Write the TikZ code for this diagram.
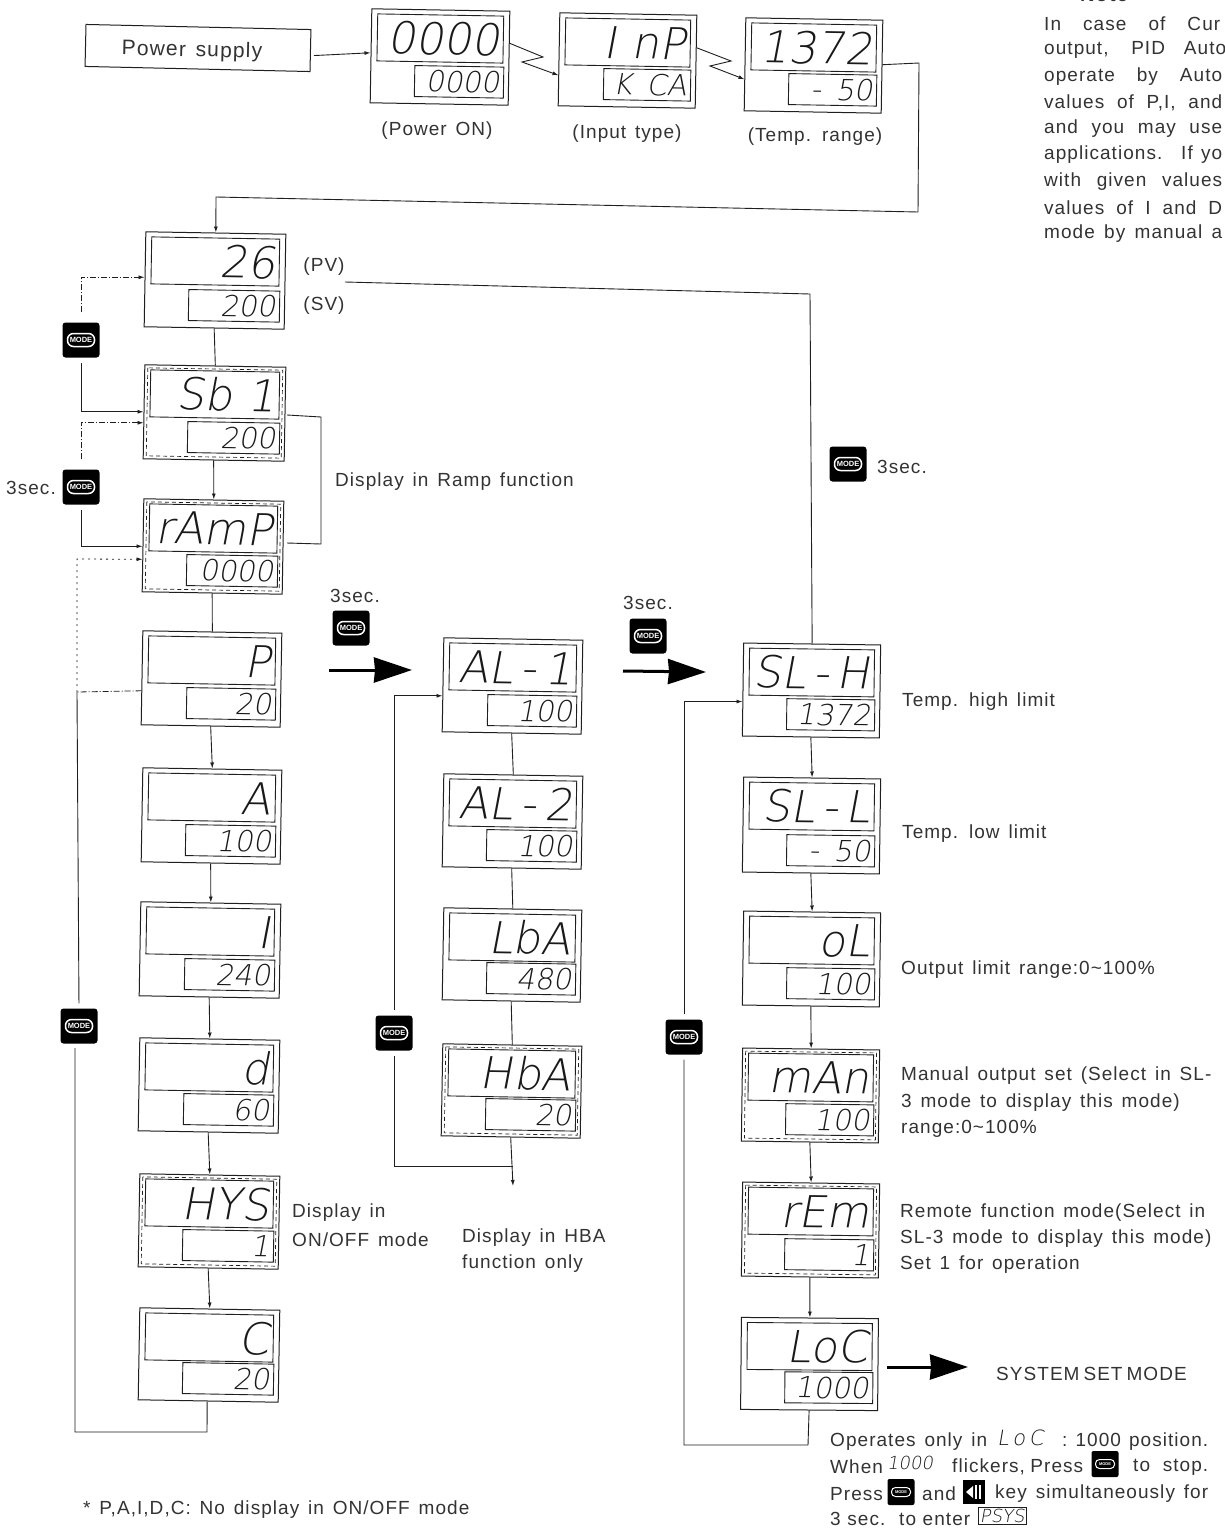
\documentclass[tikz,border=0pt]{standalone}
\usepackage{fontspec}
\usetikzlibrary{arrows.meta,calc}
\setmainfont{Liberation Sans}
\newfontfamily\ann[LetterSpace=5.5,WordSpace=1.4]{Liberation Sans}
\newfontfamily\segf[FakeSlant=0.17]{DejaVu Sans ExtraLight}
\newcommand{\segU}{\segf\fontsize{44}{44}\selectfont}
\newcommand{\segL}{\segf\fontsize{29}{29}\selectfont}
\newcommand{\segS}{\segf\fontsize{21}{21}\selectfont}
\newcommand{\segT}{\segf\fontsize{18}{18}\selectfont}
\newcommand{\annf}{\ann\fontsize{19}{22}\selectfont}
% a line of text set to a given width, the word spaces taking up the slack
\newcommand{\jl}[2]{\hbox to #1pt{\spaceskip=4pt plus 1fil\relax #2}}
\definecolor{ink}{gray}{0.12}
\definecolor{seg}{gray}{0.1}
\definecolor{txt}{gray}{0.2}
\tikzset{
  dbox/.style={draw=ink,line width=1pt,rectangle,inner sep=0pt},
  upd/.style={draw=ink,line width=0.9pt,rectangle,inner sep=0pt,text=seg,font=\segU,align=right,text height=32pt,text depth=0pt},
  lod/.style={draw=ink,line width=0.9pt,rectangle,inner sep=0pt,text=seg,font=\segL,align=right,text height=21pt,text depth=0pt},
  dashin/.style={draw=ink,line width=0.7pt,dash pattern=on 4pt off 3pt},
  conn/.style={draw=ink,line width=0.9pt},
  tip/.style={-{Latex[length=6pt,width=4pt]}},
  dconn/.style={draw=ink,line width=0.8pt,dash pattern=on 6pt off 2pt on 1pt off 2pt},
  dotconn/.style={draw=ink,line width=0.8pt,dash pattern=on 2pt off 4pt},
  bold/.style={draw=black,line width=3pt,-{Stealth[length=38pt,width=25pt,inset=1pt]}},
  lab/.style={font=\annf,text=txt,anchor=west,inner sep=0pt,yshift=-2pt},
  labc/.style={font=\annf,text=txt,anchor=center,inner sep=0pt,yshift=-2pt},
  btn/.style={fill=black,rectangle,rounded corners=3pt,minimum width=37pt,minimum height=35pt,inner sep=0pt},
  pill/.style={fill=black,draw=white,line width=1.5pt,rounded corners=6pt,minimum width=27pt,minimum height=13pt,inner sep=0pt,text=white,font=\bfseries\fontsize{7.5}{8}\selectfont},
  sbtn/.style={fill=black,rectangle,rounded corners=2pt,minimum width=27pt,minimum height=26pt,inner sep=0pt},
  spill/.style={fill=black,draw=white,line width=1pt,rounded corners=4pt,minimum width=19pt,minimum height=9pt,inner sep=0pt,text=white,font=\bfseries\fontsize{4}{4}\selectfont},
}
% name x1 y1 x2 y2 lowerleft upper lower rot
\newcommand{\disp}[9]{%
  \pgfmathsetmacro\dw{#4-#2}\pgfmathsetmacro\dh{#5-#3}%
  \pgfmathsetmacro\cxx{(#2+#4)/2}\pgfmathsetmacro\cyy{(#3+#5)/2}%
  \pgfmathsetmacro\uw{\dw-12}\pgfmathsetmacro\lw{#4-5-#6}%
  \pgfmathsetmacro\uy{-\dh/2+5+23.5}\pgfmathsetmacro\ly{\dh/2-7-15.5}%
  \pgfmathsetmacro\lx{\dw/2-5-\lw/2}\pgfmathsetmacro\utw{\uw-8}\pgfmathsetmacro\ltw{\lw-8}%
  \begin{scope}[shift={(\cxx,\cyy)},rotate=#9,transform shape]
    \node[dbox,minimum width=\dw pt,minimum height=\dh pt] (#1) at (0,0) {};
    \node[upd,minimum width=\uw pt,minimum height=47pt,text width=\utw pt] (#1u) at (0,\uy) {#7};
    \node[lod,minimum width=\lw pt,minimum height=31pt,text width=\ltw pt] (#1l) at (\lx,\ly) {#8};
  \end{scope}%
}
% same, with the dashed inner frame
\newcommand{\dispd}[9]{%
  \disp{#1}{#2}{#3}{#4}{#5}{#6}{#7}{#8}{#9}%
  \begin{scope}[shift={(\cxx,\cyy)},rotate=#9]
    \pgfmathsetmacro\ax{\dw/2-3}\pgfmathsetmacro\ay{\dh/2-3}%
    \draw[dashin] (-\ax,-\ay) rectangle (\ax,\ay);
  \end{scope}%
}
\newcommand{\modebtn}[3]{%
  \node[btn] (#1) at (#2,#3) {};
  \node[pill] (#1p) at (#2,#3) {MODE};
}
\newcommand{\smallbtn}[3]{%
  \node[sbtn] (#1) at (#2,#3) {};
  \node[spill] (#1p) at (#2,#3) {MODE};
}
\begin{document}
\begin{tikzpicture}[x=1pt,y=-1pt]
\useasboundingbox (0,0) rectangle (1225,1528);
\fill[white] (0,0) rectangle (1225,1528);

% ---------- top row
\node[dbox,rotate=-1.3,minimum width=225pt,minimum height=42pt] (ps) at (198,48) {};
\node[rotate=-1.3,font=\ann\fontsize{21}{24}\selectfont,text=txt,inner sep=0pt] (pst) at (192,51) {Power supply};
\disp{on}{371}{10}{509}{104}{415}{0000}{0000}{-1}
\disp{inp}{559}{14}{696}{107}{604}{I nP}{K\enspace CA}{-1}
\disp{tmp}{745}{19}{882}{112}{789}{1372}{-\enspace50}{-1}
\node[labc] (lon) at (437,129) {(Power ON)};
\node[labc] (lin) at (627,132) {(Input type)};
\node[labc] (ltm) at (815,135) {(Temp. range)};

\draw[conn,tip] ($(ps.east)+(3,5)$) -- ($(on.west)+(0,-3)$);
\coordinate (z1) at (543,57); \coordinate (z2) at (522,62);
\draw[conn,tip] ($(on.east)+(0,-15)$) -- (z1) -- (z2) -- ($(inp.west)+(0,16)$);
\coordinate (z3) at (731,61); \coordinate (z4) at (710,66);
\draw[conn,tip] ($(inp.east)+(0,-14)$) -- (z3) -- (z4) -- ($(tmp.west)+(0,15)$);

% ---------- left column
\disp{pv}{145}{233}{285}{328}{189}{26}{200}{-1}
\dispd{sv}{144}{366}{285}{460}{188}{Sb 1}{200}{-1}
\dispd{ramp}{143}{500}{283}{593}{187}{rAmP}{0000}{-1}
\disp{p}{142}{632}{281}{726}{187}{P}{20}{-1}
\disp{a}{142}{769}{281}{863}{186}{A}{100}{-1}
\disp{i}{140}{903}{280}{997}{185}{I}{240}{-1}
\disp{d}{139}{1039}{279}{1132}{184}{d}{60}{-1}
\dispd{hys}{139}{1175}{279}{1268}{183}{HYS}{1}{-1}
\disp{c}{139}{1309}{279}{1401}{183}{C}{20}{-1}

\coordinate (r1) at (919,63); \coordinate (r2) at (918,212); \coordinate (r3) at (216,197);
\draw[conn,tip] ($(tmp.east)+(0,-2)$) -- (r1) -- (r2) -- (r3) -- (pv.north);

\draw[conn] (pv.south) -- (sv.north);
\draw[conn,tip] (sv.south) -- (ramp.north);
\draw[conn] (ramp.south) -- (p.north);
\draw[conn,tip] (p.south) -- (a.north);
\draw[conn,tip] (a.south) -- (i.north);
\draw[conn,tip] (i.south) -- (d.north);
\draw[conn,tip] (d.south) -- (hys.north);
\draw[conn,tip] (hys.south) -- (c.north);

\modebtn{m1}{81}{340}
\modebtn{m2}{81}{487}
\modebtn{m6}{79}{1026}
\draw[dconn,tip,shorten <=10pt] (m1.north) |- ($(pv.west)+(0,-2)$);
\draw[conn,tip,shorten <=5pt] (m1.south) |- ($(sv.west)+(0,0)$);
\draw[dconn,tip,shorten <=10pt] (m2.north) |- ($(sv.west)+(0,11)$);
\draw[conn,tip,shorten <=5pt] (m2.south) |- ($(ramp.west)+(0,1)$);
\coordinate (lp) at (77,692);
\draw[dotconn,tip] (lp) -- (77,559) -- ($(ramp.west)+(0,14)$);
\draw[dconn] ($(p.west)+(0,13)$) -- (lp);
\draw[conn,shorten >=5pt] (lp) -- (m6.north);
\coordinate (cl) at (207,1432); \coordinate (cb) at (75,1432);
\draw[conn] (c.south) ++(-1,0) -- (cl) -- (cb) -- (75,1048);

\draw[conn] (287,415) -- (321,417) -- (321,544) -- (287,543);
\node[lab] (ldr) at (335,480) {Display in Ramp function};
\node[labc] (lpv) at (324,265) {(PV)};
\node[labc] (lsv) at (324,304) {(SV)};
\node[labc] (l3a) at (31,486) {3sec.};
\node[lab] (lh1) at (292,1211) {Display in};
\node[lab] (lh2) at (292,1238) {ON/OFF mode};

% ---------- middle column
\disp{al}{443}{639}{582}{733}{488}{AL\,-\,1}{100}{-1}
\disp{alb}{443}{775}{582}{868}{487}{AL\,-\,2}{100}{-1}
\disp{lba}{443}{909}{581}{1001}{487}{LbA}{480}{-1}
\dispd{hba}{442}{1045}{581}{1137}{486}{HbA}{20}{-1}
\draw[conn] (al.south) -- (alb.north);
\draw[conn] (alb.south) -- (lba.north);
\draw[conn] (lba.south) -- (hba.north);
\coordinate (hbe) at (513,1186);
\draw[conn,tip] (hba.south) -- (hbe);
\modebtn{m7}{394}{1033}
\coordinate (hbj) at (513,1166);
\draw[conn,tip,shorten <=5pt] (m7.north) |- ($(al.west)+(0,11)$);
\draw[conn,shorten <=5pt] (m7.south) |- (hbj);
\node[lab] (lb1) at (462,1236) {Display in HBA};
\node[lab] (lb2) at (462,1262) {function only};

% ---------- right column
\disp{slh}{743}{644}{880}{737}{787}{SL\,-\,H}{1372}{-0.8}
\disp{sll}{743}{778}{880}{873}{787}{SL\,-\,L}{-\enspace50}{-0.8}
\disp{ol}{743}{912}{880}{1006}{787}{oL}{100}{-0.8}
\dispd{man}{742}{1049}{879}{1142}{786}{mAn}{100}{-0.8}
\dispd{rem}{742}{1183}{879}{1277}{785}{rEm}{1}{-0.8}
\disp{loc}{741}{1318}{878}{1410}{785}{LoC}{1000}{-0.5}
\draw[conn,tip] (slh.south) -- (sll.north);
\draw[conn,tip] (sll.south) -- (ol.north);
\draw[conn,tip] (ol.south) -- (man.north);
\draw[conn,tip] (man.south) -- (rem.north);
\draw[conn,tip] (rem.south) -- (loc.north);

\coordinate (pv1) at (345,282); \coordinate (pv2) at (810,294);
\draw[conn] (pv1) -- (pv2) -- (slh.north);
\modebtn{m5}{848}{464}
\node[lab] (l3e) at (877,465) {3sec.};
\modebtn{m8}{684}{1037}
\draw[conn,tip,shorten <=5pt] (m8.north) |- ($(slh.west)+(0,12)$);
\coordinate (lb) at (684,1445); \coordinate (lc) at (808,1445);
\draw[conn,shorten <=5pt] (m8.south) -- (lb) -- (lc) -- (loc.south);

\node[lab] (t1) at (902,700) {Temp. high limit};
\node[lab] (t2) at (902,832) {Temp. low limit};
\node[lab] (t3) at (901,968) {Output limit range:0\textasciitilde100\%};
\node[lab] (t4) at (901,1074) {Manual output set (Select in SL-};
\node[lab] (t5) at (901,1101) {3 mode to display this mode)};
\node[lab] (t6) at (901,1127) {range:0\textasciitilde100\%};
\node[lab] (t7) at (900,1211) {Remote function mode(Select in};
\node[lab] (t8) at (900,1237) {SL-3 mode to display this mode)};
\node[lab] (t9) at (900,1263) {Set 1 for operation};

% ---------- mode change arrows
\modebtn{m3}{351}{628}
\node[labc] (l3b) at (355,594) {3sec.};
\coordinate (a1s) at (329,670); \coordinate (a1e) at (412,670);
\draw[bold] (a1s) -- (a1e);
\modebtn{m4}{648}{636}
\node[labc] (l3c) at (648,601) {3sec.};
\coordinate (a2s) at (623,671); \coordinate (a2e) at (706,672);
\draw[bold] (a2s) -- (a2e);
\coordinate (a3s) at (887,1367); \coordinate (a3e) at (968,1367);
\draw[bold] (a3s) -- (a3e);
\node[lab] (sys) at (996,1372) {\hbox to 189pt{\spaceskip=4pt plus 1fil\relax SYSTEM SET MODE}};

% ---------- notes under the LoC box
\node[lab] (n1) at (830,1440) {Operates only in};
\node[anchor=west,inner sep=0pt,font=\segS,text=seg] (n1b) at (997,1438) {L\thinspace o\thinspace C};
\node[lab] (n1c) at (1062,1440) {\jl{146}{:\ 1000 position.}};
\node[lab] (n2) at (830,1465) {When};
\node[anchor=west,inner sep=0pt,font=\segT,text=seg] (n2b) at (887,1463) {1000};
\node[lab] (n2c) at (952,1465) {\jl{131}{flickers, Press}};
\smallbtn{s1}{1105}{1464}
\node[lab] (n2d) at (1133,1465) {\jl{75}{to stop.}};
\node[lab] (n3) at (830,1492) {Press};
\smallbtn{s2}{901}{1492}
\node[lab] (n3b) at (922,1492) {and};
\node[fill=black,rectangle,minimum width=22pt,minimum height=24pt,inner sep=0pt] (s3) at (974,1492) {};
\fill[white] (966,1492) -- (973,1486) -- (973,1498) -- cycle;
\fill[white] (975,1485) rectangle (977,1499);
\fill[white] (979,1485) rectangle (981,1499);
\node[lab] (n3c) at (995,1492) {\jl{213}{key simultaneously for}};
\node[lab] (n4) at (830,1517) {\jl{140}{3 sec. to enter}};
\node[draw=ink,line width=0.8pt,rectangle,anchor=west,inner sep=1.5pt,font=\segT,text=seg] (n4b) at (978,1516) {PSYS};

\node[lab] (foot) at (83,1508) {* P,A,I,D,C: No display in ON/OFF mode};

% ---------- note at top right, cut by the page edge
\node[lab,font=\ann\bfseries\fontsize{20}{22}\selectfont] (nt) at (1080,-7) {Note};
\node[lab] (ln1) at (1044,22) {\jl{176}{In case of Cur}};
\node[lab] (ln2) at (1044,48) {\jl{182}{output, PID Auto}};
\node[lab] (ln3) at (1044,75) {\jl{178}{operate by Auto}};
\node[lab] (ln4) at (1044,101) {\jl{178}{values of P,I, and}};
\node[lab] (ln5) at (1044,127) {\jl{178}{and you may use}};
\node[lab] (ln6) at (1044,153) {\jl{178}{applications. If yo}};
\node[lab] (ln7) at (1044,180) {\jl{178}{with given values}};
\node[lab] (ln8) at (1044,206) {\jl{178}{values of I and D}};
\node[lab] (ln9) at (1044,232) {\jl{178}{mode by manual a}};
\end{tikzpicture}
\end{document}
